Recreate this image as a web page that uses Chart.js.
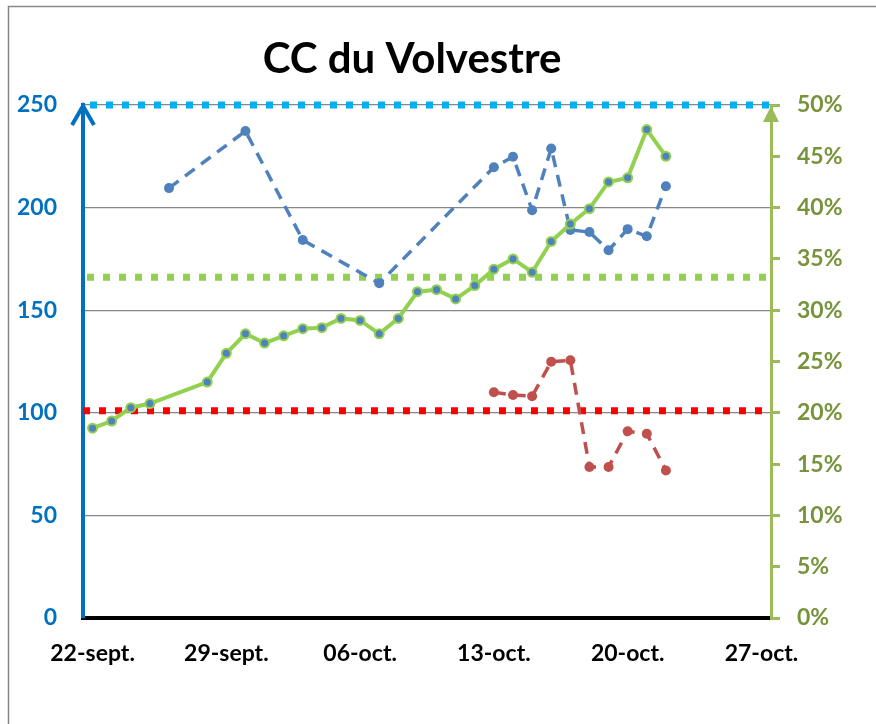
<!DOCTYPE html>
<html>
<head>
<meta charset="utf-8">
<script src="https://cdn.jsdelivr.net/npm/chart.js@4.4.0/dist/chart.umd.min.js"></script>
<style>
  html, body { margin: 0; padding: 0; background: #fff; }
  #wrap { width: 876px; height: 724px; }
</style>
</head>
<body>
<div id="wrap"><canvas id="chart" width="876" height="724"></canvas></div>
<script>
// days are counted from 22 sept.
const dateLabels = ['22-sept.', '29-sept.', '06-oct.', '13-oct.', '20-oct.', '27-oct.'];
const labelDays = [0, 7, 14, 21, 28, 35];

// green line, right axis (%)
const greenDays = [0, 1, 2, 3, 6, 7, 8, 9, 10, 11, 12, 13, 14, 15, 16, 17, 18, 19, 20, 21, 22, 23, 24, 25, 26, 27, 28, 29, 30];
const greenValues = [18.5, 19.2, 20.5, 20.9, 23.0, 25.8, 27.7, 26.8, 27.5, 28.2, 28.3, 29.2, 29.0, 27.7, 29.2, 31.8, 32.0, 31.1, 32.4, 34.0, 35.0, 33.7, 36.7, 38.4, 39.9, 42.5, 42.9, 47.6, 45.0];

// blue dashed, left axis
const blueDays = [4, 8, 11, 15, 21, 22, 23, 24, 25, 26, 27, 28, 29, 30];
const blueValues = [209.5, 237.3, 184.2, 163.1, 219.7, 224.8, 198.7, 228.8, 189.1, 188.1, 179.2, 189.5, 186.0, 210.4];

// red dashed, left axis
const redDays = [21, 22, 23, 24, 25, 26, 27, 28, 29, 30];
const redValues = [110.0, 108.7, 108.1, 124.9, 125.6, 73.6, 73.6, 91.0, 89.8, 71.9];

// dotted reference lines
const blueLimit = 250;
const redLimit = 101;
const greenLimit = 33.2; // %

const dayMin = -0.5, dayMax = 35.5;

function points(days, vals) {
    return days.map((d, i) => ({x: d, y: vals[i]}));
}
function flat(v) {
    return [{x: dayMin, y: v}, {x: dayMax, y: v}];
}

const decor = {
    id: 'decor',
    beforeDraw(chart) {
        const ctx = chart.ctx;
        ctx.save();
        // outer frame (left + top only, rest is cut off)
        ctx.strokeStyle = '#878787';
        ctx.lineWidth = 1.5;
        ctx.beginPath();
        ctx.moveTo(8.5, 724);
        ctx.lineTo(8.5, 6.5);
        ctx.lineTo(876, 6.5);
        ctx.stroke();
        // title
        ctx.fillStyle = '#000';
        ctx.font = 'bold 42px Lato';
        ctx.textAlign = 'center';
        ctx.textBaseline = 'alphabetic';
        ctx.fillText('CC du Volvestre', 412, 73);
        ctx.restore();
    },
    afterDraw(chart) {
        const ctx = chart.ctx;
        const a = chart.chartArea;
        ctx.save();
        // open arrow on left axis
        ctx.strokeStyle = '#0070C0';
        ctx.lineWidth = 4;
        ctx.beginPath();
        ctx.moveTo(a.left - 11, a.top + 20);
        ctx.lineTo(a.left, a.top + 1);
        ctx.lineTo(a.left + 11, a.top + 20);
        ctx.stroke();
        // filled arrow on right axis
        ctx.fillStyle = '#9BBB59';
        ctx.beginPath();
        ctx.moveTo(a.right, a.top + 1);
        ctx.lineTo(a.right - 8, a.top + 17);
        ctx.lineTo(a.right + 8, a.top + 17);
        ctx.closePath();
        ctx.fill();
        ctx.restore();
    }
};

const tickFont = {family: 'Lato', size: 23, weight: 'bold'};

new Chart(document.getElementById('chart'), {
    type: 'line',
    data: {
        datasets: [
            {
                label: 'green',
                data: points(greenDays, greenValues),
                yAxisID: 'y2',
                borderColor: '#92D050',
                borderWidth: 4,
                pointRadius: 4.5,
                pointBorderWidth: 2,
                pointBackgroundColor: '#4F81BD',
                pointBorderColor: '#92D050',
                order: 0
            },
            {
                label: 'red',
                data: points(redDays, redValues),
                yAxisID: 'y',
                borderColor: '#C0504D',
                borderWidth: 3.5,
                borderDash: [12, 8],
                pointRadius: 5,
                pointBorderWidth: 0,
                pointBackgroundColor: '#C0504D',
                order: 1
            },
            {
                label: 'blue',
                data: points(blueDays, blueValues),
                yAxisID: 'y',
                borderColor: '#4F81BD',
                borderWidth: 3.5,
                borderDash: [12, 8],
                pointRadius: 5,
                pointBorderWidth: 0,
                pointBackgroundColor: '#4F81BD',
                order: 2
            },
            {
                data: flat(blueLimit),
                yAxisID: 'y',
                borderColor: '#00B0F0',
                borderWidth: 7,
                borderDash: [7, 9],
                borderDashOffset: 9,
                borderCapStyle: 'butt',
                pointRadius: 0,
                clip: false,
                order: 3
            },
            {
                data: flat(redLimit),
                yAxisID: 'y',
                borderColor: '#FF0000',
                borderWidth: 7,
                borderDash: [7, 9],
                borderCapStyle: 'butt',
                pointRadius: 0,
                order: 3
            },
            {
                data: flat(greenLimit),
                yAxisID: 'y2',
                borderColor: '#92D050',
                borderWidth: 7,
                borderDash: [7, 9],
                borderDashOffset: 12,
                borderCapStyle: 'butt',
                pointRadius: 0,
                order: 3
            }
        ]
    },
    options: {
        responsive: false,
        animation: false,
        layout: {padding: {top: 105, left: 0, right: 0, bottom: 0}},
        plugins: {
            legend: {display: false},
            title: {display: false},
            tooltip: {enabled: false}
        },
        scales: {
            x: {
                type: 'linear',
                min: dayMin,
                max: dayMax,
                afterBuildTicks: s => { s.ticks = labelDays.map(v => ({value: v})); },
                afterFit: s => { s.height = 106; },
                grid: {display: false, drawTicks: false},
                border: {color: '#000', width: 4},
                ticks: {
                    font: tickFont,
                    color: '#000',
                    padding: 22,
                    maxRotation: 0,
                    autoSkip: false,
                    callback: v => dateLabels[labelDays.indexOf(v)]
                }
            },
            y: {
                position: 'left',
                min: 0,
                max: 250,
                afterFit: s => { s.width = 83; },
                grid: {color: '#868686', lineWidth: 1.3, drawTicks: false},
                border: {color: '#0070C0', width: 4},
                ticks: {stepSize: 50, font: tickFont, color: '#0070C0', padding: 26}
            },
            y2: {
                position: 'right',
                min: 0,
                max: 50,
                afterFit: s => { s.width = 105; },
                grid: {drawOnChartArea: false, color: '#9BBB59', lineWidth: 3, tickLength: 9},
                border: {color: '#9BBB59', width: 3},
                ticks: {stepSize: 5, font: tickFont, color: '#77933C', padding: 17, callback: v => v + '%'}
            }
        }
    },
    plugins: [decor]
});
</script>
</body>
</html>
